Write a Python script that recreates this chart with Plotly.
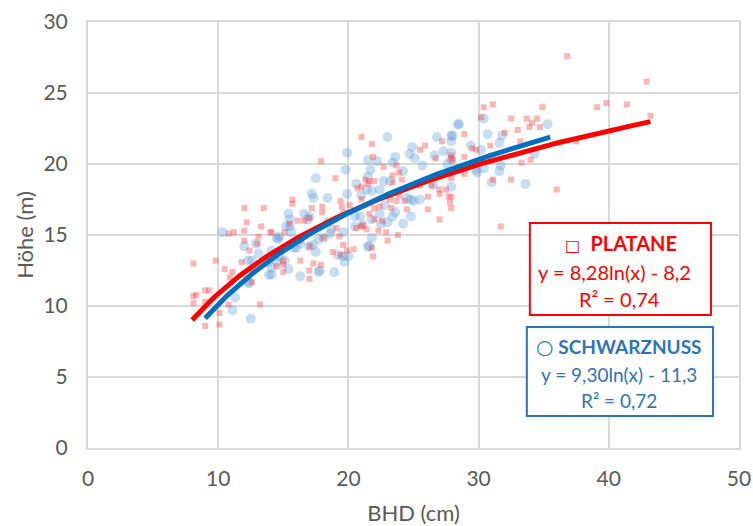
import numpy as np
import plotly.graph_objects as go

# ---- data ----
platane_x = [12.0, 13.5, 12.2, 13.3, 10.8, 11.2, 12.0, 13.1, 14.0, 12.0, 13.0, 12.4, 8.1, 9.8, 10.5, 11.8, 11.1, 10.9, 12.6, 9.3,
             9.0, 8.3, 8.1, 9.0, 8.1, 10.8, 13.2, 10.1, 9.0, 10.1,
             17.9, 19.0, 15.7, 15.7, 18.0, 17.2, 18.0, 19.4, 19.5, 19.6, 20.1, 20.7, 21.0, 21.5, 16.1, 16.6, 17.0, 15.5, 15.1, 14.1,
             19.1, 20.6, 21.0, 18.1, 19.3, 17.0, 19.6, 19.9, 20.4, 18.8, 19.4, 16.3, 15.0, 15.0, 17.3, 17.9, 17.0, 15.0, 17.0, 14.5,
             21.0, 21.8, 21.9, 22.7, 23.7, 23.9, 23.4, 25.5, 25.9, 27.2, 26.7, 27.9, 21.3, 21.6, 22.0, 24.1, 23.4, 25.5, 26.4, 27.0,
             27.9, 27.5, 23.9, 24.3, 26.1, 27.0, 27.7, 27.8, 23.2, 21.0, 22.4, 22.0, 21.6, 23.3, 24.5, 26.1, 27.0, 22.0, 22.6, 21.1,
             22.3, 22.9, 23.8, 23.0, 21.8, 21.9, 21.4,
             30.4, 31.1, 34.9, 30.2, 32.5, 33.7, 34.5, 34.1, 33.9, 34.7, 33.0, 32.0, 28.9, 30.9, 29.5, 29.8, 33.2, 33.3, 34.0, 28.9,
             27.9, 28.0, 28.9, 31.1, 32.5, 27.9, 27.9, 36.0, 31.7,
             36.8, 39.1, 39.8, 41.4, 37.5, 42.9, 43.2,
             19.0, 23.7, 16.3]
platane_y = [16.9, 16.9, 15.9, 15.6, 15.1, 15.2, 15.3, 14.9, 15.2, 14.6, 14.4, 13.9, 13.0, 13.2, 12.6, 13.1, 12.4, 12.0, 11.7, 11.1,
             11.1, 10.8, 10.7, 10.3, 10.2, 10.1, 10.1, 9.5, 8.6, 8.7,
             20.2, 19.0, 17.5, 17.2, 17.0, 16.9, 16.6, 17.4, 17.0, 16.6, 17.1, 18.3, 18.4, 18.6, 16.0, 16.0, 16.2, 15.8, 15.2, 15.2,
             15.5, 15.5, 15.6, 14.8, 14.9, 14.2, 14.3, 13.9, 14.0, 13.8, 13.6, 13.2, 13.2, 12.9, 13.0, 12.9, 12.5, 12.4, 11.9, 12.8,
             21.9, 21.4, 20.5, 19.8, 19.9, 19.4, 19.2, 21.0, 21.3, 21.6, 20.4, 20.4, 18.9, 18.8, 18.8, 18.9, 18.7, 18.5, 18.5, 18.2,
             19.0, 18.2, 17.8, 17.4, 17.7, 17.9, 17.7, 17.3, 17.5, 17.5, 17.0, 16.9, 16.5, 16.9, 16.8, 16.8, 16.1, 16.1, 16.0, 15.7,
             15.3, 15.2, 15.0, 14.6, 14.1, 13.5, 15.4,
             24.0, 24.2, 24.0, 23.3, 23.2, 23.2, 23.2, 22.9, 22.6, 22.6, 22.4, 22.2, 22.1, 21.3, 21.1, 21.0, 21.6, 20.1, 20.3, 20.5,
             20.6, 20.3, 19.3, 18.9, 18.9, 17.7, 16.9, 18.2, 15.6,
             27.6, 24.0, 24.3, 24.2, 21.6, 25.8, 23.4,
             16.1, 17.4, 14.6]

nuss_x = [10.3, 12.0, 13.1, 12.3, 12.6, 13.8, 14.5, 14.1, 13.9, 12.3, 11.3, 11.1, 12.5, 14.6,
          12.4, 16.3, 18.9, 17.7, 15.1, 15.4, 16.0, 19.7, 19.6, 18.6, 15.5, 15.4, 16.6, 17.0, 17.5, 19.9, 19.8, 19.9, 17.2, 17.3, 18.4,
          20.6, 21.5, 16.9, 15.5, 14.5, 14.7, 15.6, 20.5, 20.5, 16.3, 17.7, 18.1, 17.0, 17.5, 15.8, 14.7, 14.1, 19.6, 20.0, 17.8, 14.1, 21.5,
          23.0, 24.9, 24.7, 26.6, 26.8, 28.0, 28.4, 27.3, 27.9, 21.5, 23.4, 25.1, 25.7, 27.6, 21.7, 22.7, 23.2, 21.4, 21.8, 22.4,
          24.5, 24.8, 25.5, 26.5, 21.0, 20.9, 22.8, 23.6, 24.8, 22.4, 23.0, 22.5, 24.2, 21.8, 21.6,
          28.5, 30.4, 27.9, 27.9, 30.7, 31.8, 31.6, 35.3, 29.4, 30.2, 27.9, 29.8, 30.4, 31.7, 31.6, 31.0, 34.3, 31.0, 33.6, 27.9, 29.9,
          22.2, 23.6, 24.2, 25.0, 18.4, 18.7, 21.1, 21.8, 23.4, 19.2, 17.3, 12.9, 15.2]
nuss_y = [15.2, 14.2, 13.7, 13.2, 13.2, 13.1, 13.1, 12.7, 12.2, 11.7, 10.6, 9.7, 9.1, 14.7,
          11.6, 12.1, 12.4, 12.4, 13.2, 12.6, 14.1, 13.1, 15.2, 15.1, 15.6, 16.5, 16.5, 16.3, 19.0, 20.8, 19.6, 17.9, 17.9, 17.6, 17.6,
          18.6, 19.1, 16.1, 16.1, 14.8, 14.9, 15.2, 15.6, 16.3, 14.4, 14.7, 14.8, 14.2, 13.8, 14.1, 13.5, 13.9, 13.5, 13.5, 12.5, 12.2, 14.2,
          21.9, 21.2, 20.7, 20.6, 21.9, 22.0, 22.8, 20.9, 20.8, 20.3, 20.1, 20.4, 19.9, 20.0, 19.6, 18.8, 18.8, 18.2, 18.1, 18.2,
          17.6, 17.5, 17.5, 18.5, 17.8, 16.3, 17.1, 16.6, 16.3, 16.5, 15.9, 15.8, 15.8, 14.8, 14.2,
          22.8, 23.2, 22.0, 21.6, 22.1, 22.0, 21.5, 22.8, 21.3, 21.0, 20.3, 19.6, 19.7, 19.9, 19.5, 20.3, 20.7, 18.7, 18.6, 18.4, 19.4,
          20.2, 20.5, 19.5, 17.4, 15.9, 15.4, 15.7, 16.1, 16.3, 13.6, 14.3, 14.4, 15.6]

# trendline coefficients (y = a*ln(x) + b) and x-ranges
platane_fit = {"a": 8.28, "b": -8.2, "xmin": 8.0, "xmax": 43.2}
nuss_fit = {"a": 9.30, "b": -11.3, "xmin": 9.0, "xmax": 35.5}

x_ticks = [0, 10, 20, 30, 40, 50]
y_ticks = [0, 5, 10, 15, 20, 25, 30]

RED = "#FF0000"
BLUE_LINE = "#0070C0"
BLUE_TXT = "#2E75B6"
GRAY = "#595959"
FONT = "Lato, Carlito, Calibri, sans-serif"

fig = go.Figure()
fig.add_trace(go.Scatter(x=nuss_x, y=nuss_y, mode="markers",
                         marker=dict(symbol="circle", size=10, color="rgba(91,155,213,0.34)",
                                     line=dict(width=0)), showlegend=False))
fig.add_trace(go.Scatter(x=platane_x, y=platane_y, mode="markers",
                         marker=dict(symbol="square", size=6, color="rgba(255,60,60,0.38)",
                                     line=dict(width=0)), showlegend=False))
for fit, col in ((platane_fit, RED), (nuss_fit, BLUE_LINE)):
    xs = np.linspace(fit["xmin"], fit["xmax"], 200)
    ys = fit["a"] * np.log(xs) + fit["b"]
    fig.add_trace(go.Scatter(x=xs, y=ys, mode="lines", line=dict(color=col, width=5),
                             showlegend=False, hoverinfo="skip"))

# pixel -> paper helpers (plot area 88.5..739 x 22..448)
L, R, T, B = 88.5, 739.0, 22.0, 448.0
def px(v):
    return (v - L) / (R - L)
def py(v):
    return (B - v) / (B - T)

shapes = [
    dict(type="rect", xref="paper", yref="paper", x0=px(530), x1=px(711), y0=py(315), y1=py(223),
         line=dict(color=RED, width=2), fillcolor="white", layer="above"),
    dict(type="rect", xref="paper", yref="paper", x0=px(527), x1=px(713), y0=py(416), y1=py(327),
         line=dict(color=BLUE_TXT, width=2), fillcolor="white", layer="above"),
]

ann = []
def add_text(txt, cx, cy, col, size=19):
    ann.append(dict(text=txt, xref="paper", yref="paper", x=px(cx), y=py(cy), xanchor="center",
                    yanchor="middle", showarrow=False, font=dict(family=FONT, size=size, color=col)))

add_text("<span style='font-family:DejaVu Sans;font-size:16px;font-weight:normal'>□</span>  <b>PLATANE</b>", 621, 243, RED, 20)
add_text("y = 8,28ln(x) - 8,2", 615, 272, RED, 20)
add_text("R² = 0,74", 620, 299, RED, 20)
add_text("<span style='font-family:DejaVu Sans;font-size:20px;font-weight:normal'>○</span> <b>SCHWARZNUSS</b>", 619, 347, BLUE_TXT)
add_text("y = 9,30ln(x) - 11,3", 619, 374, BLUE_TXT)
add_text("R² = 0,72", 619, 400, BLUE_TXT)

axis_common = dict(showgrid=True, gridcolor="#D9D9D9", gridwidth=2, zeroline=False,
                   showline=True, linecolor="#D9D9D9", linewidth=2, mirror=True,
                   ticks="outside", tickcolor="rgba(0,0,0,0)", automargin=False,
                   tickfont=dict(family=FONT, size=21, color=GRAY))

fig.update_layout(
    width=753, height=526,
    margin=dict(l=88, r=14, t=22, b=78),
    paper_bgcolor="white", plot_bgcolor="white",
    xaxis=dict(range=[0, 50], tickvals=x_ticks, ticklen=11,
               title=dict(text="BHD (cm)", font=dict(family=FONT, size=22, color=GRAY), standoff=17),
               **axis_common),
    yaxis=dict(range=[0, 30], tickvals=y_ticks, ticklen=14,
               title=dict(text="Höhe (m)", font=dict(family=FONT, size=22, color=GRAY), standoff=4),
               **axis_common),
    shapes=shapes, annotations=ann, showlegend=False,
)

fig.write_html("out.html")
